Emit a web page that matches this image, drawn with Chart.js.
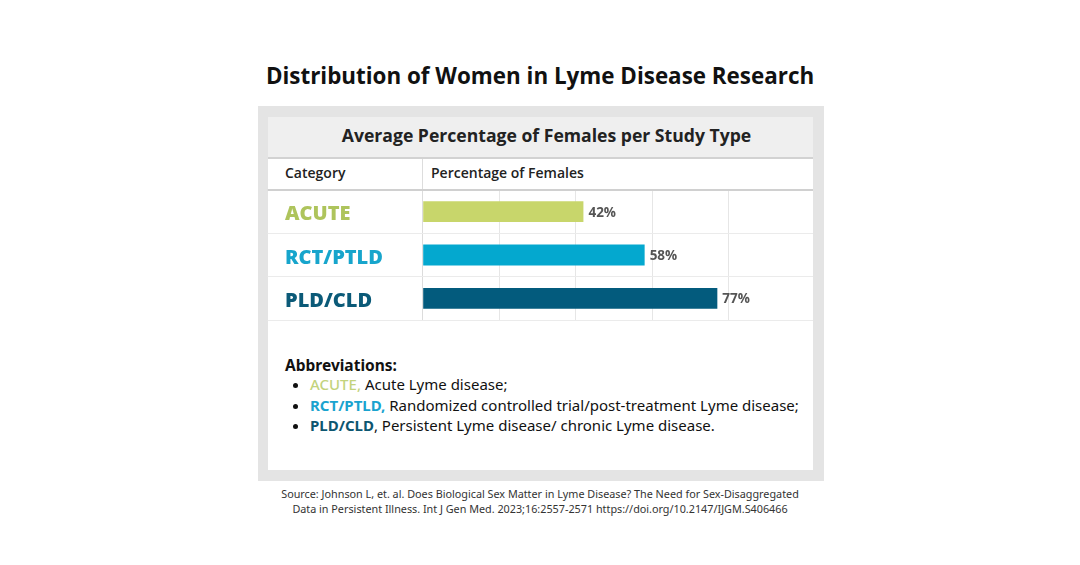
<!DOCTYPE html>
<html>
<head>
<meta charset="utf-8">
<script src="https://cdn.jsdelivr.net/npm/chart.js@4"></script>
<style>
  body { margin:0; width:1080px; height:565px; background:#fff; position:relative; overflow:hidden; font-family:"Open Sans", sans-serif; }
  .abs { position:absolute; }
  #mainTitle { left:0; width:1080px; top:60px; text-align:center; font-weight:700; font-size:22.4px; color:#111; }
  #outer { left:258px; top:106px; width:566px; height:375px; background:#e4e4e4; }
  #inner { left:268px; top:117px; width:545px; height:353px; background:#fff; }
  #band { left:268px; top:117px; width:533px; padding-left:12px; height:40px; background:#efefef; border-bottom:2px solid #d2d2d2; text-align:center; line-height:36px; font-size:17.6px; font-weight:700; color:#222; }
  #hdr { left:268px; top:159px; width:545px; height:30px; }
  #hdr span { position:absolute; top:4px; font-size:14px; font-weight:600; color:#222; }
  #vline { left:422px; top:159px; width:1px; height:31px; background:#ddd; }
  #abbr { left:285px; top:354px; font-family:"Noto Sans", sans-serif; font-size:15px; color:#111; }
  #abbr b.h { font-size:15.5px; }
  #abbr ul { margin:0; padding-left:25px; margin-top:-2px; }
  #abbr li { line-height:20.5px; }
  #src { left:0; width:1080px; top:487px; text-align:center; font-family:"Noto Sans", sans-serif; font-size:10.8px; line-height:14.5px; color:#333; }
  #c { position:absolute; left:0; top:0; }
</style>
</head>
<body>
<div class="abs" id="mainTitle">Distribution of Women in Lyme Disease Research</div>
<div class="abs" id="outer"></div>
<div class="abs" id="inner"></div>
<div class="abs" id="band">Average Percentage of Females per Study Type</div>
<div class="abs" id="hdr"><span style="left:17px">Category</span><span style="left:163px">Percentage of Females</span></div>
<div class="abs" id="vline"></div>
<div class="abs" id="abbr">
  <b class="h">Abbreviations:</b>
  <ul>
    <li><b style="color:#c3d37c;font-weight:500">ACUTE,</b> Acute Lyme disease;</li>
    <li><b style="color:#1aa3cf">RCT/PTLD,</b> Randomized controlled trial/post-treatment Lyme disease;</li>
    <li><b style="color:#0d5670">PLD/CLD</b>, Persistent Lyme disease/ chronic Lyme disease.</li>
  </ul>
</div>
<div class="abs" id="src">Source: Johnson L, et. al. Does Biological Sex Matter in Lyme Disease? The Need for Sex-Disaggregated<br>Data in Persistent Illness. Int J Gen Med. 2023;16:2557-2571 https://doi.org/10.2147/IJGM.S406466</div>
<canvas id="c" width="1080" height="565"></canvas>
<script>
// categories and values
const categories = ['ACUTE', 'RCT/PTLD', 'PLD/CLD'];
const percentFemales = [42, 58, 77];
const barColors = ['#c8d66b', '#04a8cf', '#035b7d'];
const labelColors = ['#aec45c', '#17a5cc', '#0b5a78'];

// draws the "42%" text next to each bar
const valueLabels = {
    id: 'valueLabels',
    afterDatasetsDraw(chart) {
        const ctx = chart.ctx;
        const meta = chart.getDatasetMeta(0);
        ctx.save();
        ctx.font = 'bold 13.5px "Open Sans"';
        ctx.fillStyle = '#555';
        ctx.textBaseline = 'middle';
        meta.data.forEach(function(bar, i) {
            ctx.fillText(percentFemales[i] + '%', bar.x + 5, bar.y + 1);
        });
        ctx.restore();
    }
};

const ctx = document.getElementById('c').getContext('2d');
new Chart(ctx, {
    type: 'bar',
    data: {
        labels: categories,
        datasets: [{
            data: percentFemales,
            backgroundColor: barColors,
            borderWidth: 0,
            categoryPercentage: 0.96,
            barPercentage: 0.5
        }]
    },
    options: {
        indexAxis: 'y',
        responsive: false,
        animation: false,
        layout: { padding: { left: 285, right: 267, top: 190, bottom: 245 } },
        plugins: { legend: { display: false }, tooltip: { enabled: false } },
        scales: {
            x: {
                min: 0,
                max: 102,
                ticks: { display: false, stepSize: 20 },
                grid: {
                    drawTicks: false,
                    color: (c) => c.index >= 5 ? 'rgba(0,0,0,0)' : (c.index === 0 ? '#dcdcdc' : '#e6e6e6')
                },
                border: { display: false }
            },
            y: {
                afterFit: (scale) => { scale.width = 137.7; },
                border: { display: false },
                grid: {
                    offset: true,
                    tickLength: 155,
                    lineWidth: (c) => (c.index === 0 || c.index === 3) ? 2 : 1,
                    color: (c) => (c.index === 0 || c.index === 3) ? '#d0d0d0' : '#ebebeb'
                },
                ticks: {
                    crossAlign: 'far',
                    padding: 0,
                    labelOffset: 3,
                    font: { family: '"Open Sans"', size: 20, weight: '800' },
                    color: (c) => labelColors[c.index]
                }
            }
        }
    },
    plugins: [valueLabels]
});
</script>
</body>
</html>
